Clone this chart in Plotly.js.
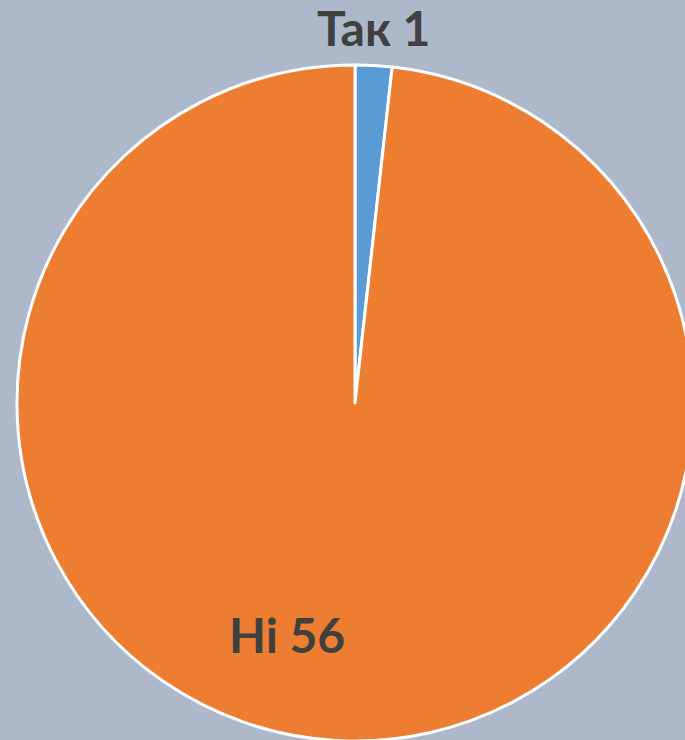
<!DOCTYPE html>
<html>
<head>
<meta charset="utf-8">
<script src="https://cdn.plot.ly/plotly-3.0.1.min.js"></script>
<style>
html,body{margin:0;padding:0;overflow:hidden;background:#ADB9CA;width:685px;height:740px;}
#chart{width:710px;height:806px;}
</style>
</head>
<body>
<div id="chart"></div>
<script>
const labels = ["Так", "Ні"];
const values = [1, 56];
const colors = ["#5B9BD5", "#ED7D31"];
const labelPos = [[0.528, 1.056], [0.400, 0.157]];

const annotations = labels.map((l, i) => ({
  text: l + " " + values[i],
  x: labelPos[i][0], y: labelPos[i][1],
  xref: "paper", yref: "paper",
  showarrow: false,
  xanchor: "center", yanchor: "middle",
  font: {family: "Lato, 'Open Sans', sans-serif", size: 48, color: "#404040", weight: "bold"}
}));

Plotly.newPlot("chart", [{
  type: "pie",
  labels: labels,
  values: values,
  sort: false,
  direction: "clockwise",
  rotation: 0,
  textinfo: "none",
  hoverinfo: "none",
  marker: {colors: colors, line: {color: "#FFFFFF", width: 3}},
  domain: {x: [0, 1], y: [0, 1]}
}], {
  width: 710, height: 806,
  margin: {l: 17, r: 17, t: 65, b: 65},
  paper_bgcolor: "#ADB9CA",
  plot_bgcolor: "#ADB9CA",
  showlegend: false,
  annotations: annotations
}, {displayModeBar: false, staticPlot: true});
</script>
</body>
</html>
